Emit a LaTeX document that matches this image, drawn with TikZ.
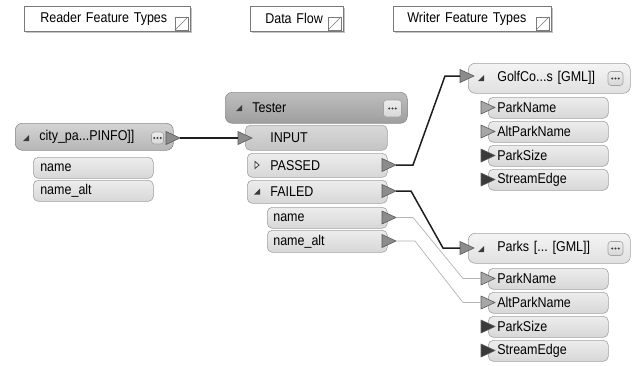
\documentclass[tikz,border=0pt]{standalone}
\usepackage{fontspec}
\setmainfont{Liberation Sans}[FakeStretch=0.88]
\usetikzlibrary{shadows}
\frenchspacing
\definecolor{rowtop}{HTML}{EDEDED}
\definecolor{rowbot}{HTML}{D7D7D7}
\definecolor{rowline}{HTML}{A2A2A2}
\definecolor{intop}{HTML}{D9D9D9}
\definecolor{inbot}{HTML}{C4C4C4}
\definecolor{chtop}{HTML}{D4D4D4}
\definecolor{chbot}{HTML}{B6B6B6}
\definecolor{chline}{HTML}{8E8E8E}
\definecolor{thtop}{HTML}{BEBEBE}
\definecolor{thbot}{HTML}{9E9E9E}
\definecolor{whtop}{HTML}{F4F4F4}
\definecolor{whbot}{HTML}{E0E0E0}
\definecolor{portfill}{HTML}{8C8C8C}
\definecolor{portline}{HTML}{5A5A5A}
\definecolor{portlight}{HTML}{A6A6A6}
\definecolor{portdark}{HTML}{3A3A3A}
\definecolor{thinline}{HTML}{B4B4B4}
\definecolor{glyph}{HTML}{3A3A3A}
\definecolor{noteline}{HTML}{7A7A7A}
\definecolor{shadowgray}{HTML}{C4C4C4}
\definecolor{wire}{HTML}{1E1E1E}

\newcommand\lblfont{\fontsize{14.2}{16}\selectfont\frenchspacing}
\newcommand\outport[4]{\filldraw[fill=#4, draw=portline, line width=0.6pt] (#2,#3-6.5) -- (#2+14,#3) -- (#2,#3+6.5) -- cycle; \coordinate (#1) at (#2+14,#3);}
\newcommand\inport[4]{\filldraw[fill=#4, draw=portline, line width=0.6pt] (#2,#3-6.5) -- (#2+14,#3) -- (#2,#3+6.5) -- cycle; \coordinate (#1) at (#2,#3);}
\newcommand\hglyph[2]{\fill[glyph] (#1,#2+3) -- (#1+6,#2+3) -- (#1+6,#2-3) -- cycle;}
\newcommand\dotbutton[5]{\node[btn, minimum width=#4pt, minimum height=#5pt] (#1) at (#2,#3) {};
  \foreach \d in {-3.3,0,3.3} \fill[glyph] ([xshift=\d pt]#1.center) circle (1.15pt);}
\newcommand\noteicon[2]{\draw[noteline, fill=white, line width=0.6pt] (#1,#2) rectangle (#1+13,#2+13); \draw[noteline, line width=0.6pt] (#1,#2+13) -- (#1+13,#2);}

\tikzset{
  base/.style={anchor=north west, inner xsep=0pt, inner ysep=0pt, align=left, font=\lblfont},
  row/.style={base, draw=rowline, line width=0.6pt, top color=rowtop, bottom color=rowbot, rounded corners=5pt},
  inrow/.style={row, top color=intop, bottom color=inbot},
  cityhead/.style={base, draw=chline, line width=0.6pt, top color=chtop, bottom color=chbot, rounded corners=7pt},
  testhead/.style={base, draw=chline, line width=0.6pt, top color=thtop, bottom color=thbot, rounded corners=7pt},
  writehead/.style={base, draw=rowline, line width=0.6pt, top color=whtop, bottom color=whbot, rounded corners=7pt},
  note/.style={base, draw=noteline, line width=0.6pt, fill=white, drop shadow={shadow xshift=2pt, shadow yshift=-2pt, fill=shadowgray, opacity=1}},
  btn/.style={draw=rowline, line width=0.6pt, top color=rowtop, bottom color=rowbot, rounded corners=3pt, inner sep=0pt},
  strong/.style={draw=wire, line width=1.5pt},
  faint/.style={draw=thinline, line width=0.7pt},
}

\begin{document}
\begin{tikzpicture}[x=1pt, y=-1pt]
\fill[white] (0,0) rectangle (632,365);
\useasboundingbox (0,0) rectangle (632,365);

% header notes
\node[note, text width=166pt, minimum height=25pt] (rft) at (24,6) {\hspace*{16pt}\mbox{Reader Feature Types}};
\noteicon{175}{17}
\node[note, text width=93pt, minimum height=25pt] (dfl) at (250,6) {\hspace*{15pt}\mbox{Data Flow}};
\noteicon{328}{17}
\node[note, text width=158pt, minimum height=25pt] (wft) at (393,6) {\hspace*{14pt}\mbox{Writer Feature Types}};
\noteicon{536}{17}

% reader
\node[cityhead, text width=158pt, minimum height=27pt] (chdr) at (15,123) {\hspace*{24pt}\mbox{city\_pa...PINFO]]}};
\hglyph{23}{138}
\dotbutton{cbtn}{157.5}{138}{12}{12}
\outport{cout}{166}{138}{portfill}
\node[row, text width=120pt, minimum height=21pt] (cname) at (33,157) {\hspace*{7pt}name};
\node[row, text width=120pt, minimum height=21pt] (calt) at (33,180) {\hspace*{7pt}name\_alt};

% tester
\node[testhead, text width=182pt, minimum height=31pt] (thdr) at (225,92) {\hspace*{27pt}\mbox{Tester}};
\hglyph{236}{108}
\dotbutton{tbtn}{392.5}{108.5}{18}{17}
\node[inrow, text width=142pt, minimum height=25pt] (tin) at (245,125) {\hspace*{25pt}INPUT};
\inport{tinp}{238}{138}{portfill}
\node[row, text width=140pt, minimum height=24pt] (tpass) at (247,153) {\hspace*{23pt}PASSED};
\filldraw[fill=white, draw=glyph, line width=0.8pt] (255,161.5) -- (259,165) -- (255,168.5) -- cycle;
\outport{tpout}{382}{165}{portfill}
\node[row, text width=140pt, minimum height=23pt] (tfail) at (247,180) {\hspace*{23pt}FAILED};
\hglyph{254}{191.5}
\outport{tfout}{382}{191}{portfill}
\node[row, text width=120pt, minimum height=21pt] (tname) at (267,207) {\hspace*{6pt}name};
\outport{tnout}{382}{217.5}{portfill}
\node[row, text width=120pt, minimum height=22pt] (talt) at (267,230) {\hspace*{6pt}name\_alt};
\outport{taout}{382}{241}{portfill}

% writer GolfCo
\node[writehead, text width=162pt, minimum height=30pt] (ghdr) at (468,63) {\hspace*{29pt}\mbox{GolfCo...s [GML]]}};
\hglyph{478}{78}
\dotbutton{gbtn}{615.5}{78.5}{15}{14}
\inport{gin}{460}{76}{portfill}
\node[row, text width=120pt, minimum height=21pt] (g1) at (488,97) {\hspace*{9pt}ParkName};
\node[row, text width=120pt, minimum height=21pt] (g2) at (488,121) {\hspace*{9pt}AltParkName};
\node[row, text width=120pt, minimum height=21pt] (g3) at (488,145) {\hspace*{9pt}ParkSize};
\node[row, text width=120pt, minimum height=21pt] (g4) at (488,169) {\hspace*{9pt}StreamEdge};
\inport{g1in}{481}{107.5}{portlight}
\inport{g2in}{481}{131.5}{portlight}
\inport{g3in}{481}{155.5}{portdark}
\inport{g4in}{481}{179.5}{portdark}

% writer Parks
\node[writehead, text width=162pt, minimum height=30pt] (phdr) at (468,233) {\hspace*{29pt}\mbox{Parks [... [GML]]}};
\hglyph{478}{249}
\dotbutton{pbtn}{615.5}{248.5}{15}{14}
\inport{pin}{460}{248}{portfill}
\node[row, text width=120pt, minimum height=21pt] (p1) at (488,268) {\hspace*{9pt}ParkName};
\node[row, text width=120pt, minimum height=21pt] (p2) at (488,292) {\hspace*{9pt}AltParkName};
\node[row, text width=120pt, minimum height=21pt] (p3) at (488,316) {\hspace*{9pt}ParkSize};
\node[row, text width=120pt, minimum height=21pt] (p4) at (488,340) {\hspace*{9pt}StreamEdge};
\inport{p1in}{481}{278.5}{portlight}
\inport{p2in}{481}{302.5}{portlight}
\inport{p3in}{481}{326.5}{portdark}
\inport{p4in}{481}{350.5}{portdark}

% connectors
\draw[strong] (cout) -- (tinp);
\draw[strong] (tpout) -- (413,165) -- (445,76) -- (gin);
\draw[strong] (tfout) -- (411,191) -- (443,248) -- (pin);
\draw[faint] (tnout) -- (413,217.5) -- (463,278.5) -- (p1in);
\draw[faint] (taout) -- (415,241) -- (463,302.5) -- (p2in);
\end{tikzpicture}
\end{document}
